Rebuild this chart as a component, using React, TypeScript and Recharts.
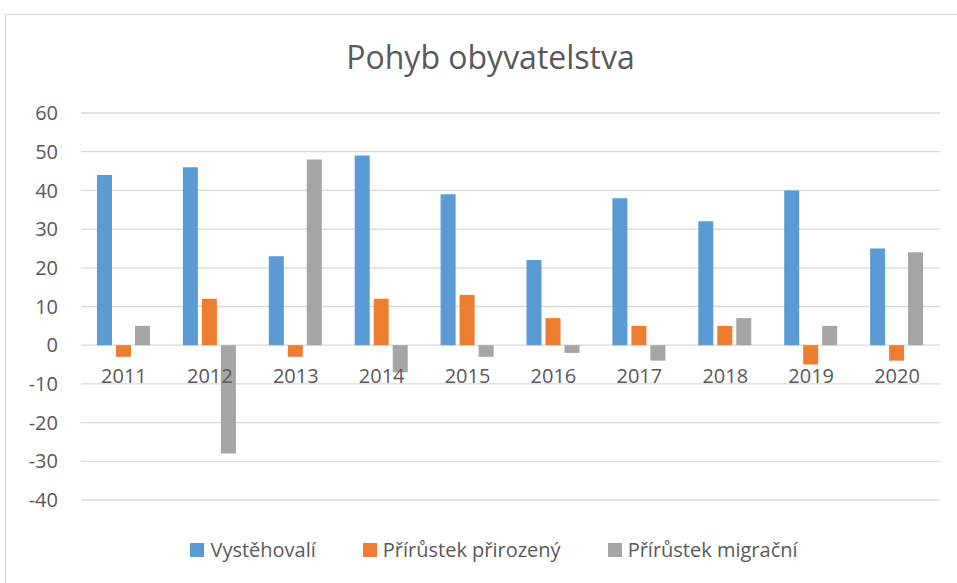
import { BarChart, Bar, XAxis, YAxis, CartesianGrid, Legend } from "recharts";

const years = ["2011", "2012", "2013", "2014", "2015", "2016", "2017", "2018", "2019", "2020"];
const vystehovali = [44, 46, 23, 49, 39, 22, 38, 32, 40, 25];
const prirozeny = [-3, 12, -3, 12, 13, 7, 5, 5, -5, -4];
const migracni = [5, -28, 48, -7, -3, -2, -4, 7, 5, 24];
const yTicks = [-40, -30, -20, -10, 0, 10, 20, 30, 40, 50, 60];

const series = [
  { key: "vystehovali", name: "Vystěhovalí", color: "#5B9BD5" },
  { key: "prirozeny", name: "Přírůstek přirozený", color: "#ED7D31" },
  { key: "migracni", name: "Přírůstek migrační", color: "#A5A5A5" },
];

const data = years.map((year, i) => ({
  year,
  vystehovali: vystehovali[i],
  prirozeny: prirozeny[i],
  migracni: migracni[i],
}));

const W = 957;
const H = 583;
const TOP = 113;
const BOTTOM = 83; // plot area ends at y=500
const XAXIS_H = 30;
const FONT = "'Open Sans', sans-serif";
const TEXT = "#595959";

// category labels sit just under the zero line, like in Excel
const plotH = H - TOP - BOTTOM;
const zeroY = TOP + (plotH * 60) / 100;

function YearTick(props: any) {
  const { x, payload } = props;
  return (
    <text x={x} y={zeroY + 38} textAnchor="middle" fill={TEXT} fontSize={20} fontFamily={FONT}>
      {payload.value}
    </text>
  );
}

function LegendContent() {
  // zero height so the legend doesn't shrink the plot area
  return (
    <div style={{ height: 0, overflow: "visible" }}>
      <div
        style={{
          display: "flex",
          justifyContent: "center",
          gap: 47,
          fontFamily: FONT,
          fontSize: 20,
          color: TEXT,
          lineHeight: "28px",
          paddingLeft: 31,
        }}
      >
        {series.map((s) => (
          <div key={s.key} style={{ display: "flex", alignItems: "center" }}>
            <span style={{ width: 14, height: 14, background: s.color, display: "inline-block", marginRight: 6 }} />
            {s.name}
          </div>
        ))}
      </div>
    </div>
  );
}

export default function App() {
  return (
    <div style={{ position: "absolute", left: 0, top: 0, width: W, height: H, overflow: "hidden", background: "#fff" }}>
      <div style={{ position: "absolute", left: 5, top: 14, width: W, height: H, border: "1px solid #D9D9D9" }} />
      <div
        style={{
          position: "absolute",
          top: 35,
          left: 12,
          width: W,
          textAlign: "center",
          fontFamily: FONT,
          fontSize: 32,
          color: TEXT,
        }}
      >
        Pohyb obyvatelstva
      </div>
      <div style={{ position: "absolute", left: 0, top: 0 }}>
        <BarChart
          width={W}
          height={H}
          data={data}
          margin={{ top: TOP, right: 17, bottom: BOTTOM - XAXIS_H, left: 0 }}
          barGap={4}
        >
          <CartesianGrid vertical={false} stroke="#D9D9D9" strokeWidth={1.3} />
          <XAxis dataKey="year" axisLine={false} tickLine={false} height={XAXIS_H} tick={<YearTick />} interval={0} />
          <YAxis
            domain={[-40, 60]}
            ticks={yTicks}
            width={81}
            axisLine={false}
            tickLine={false}
            tickSize={0}
            tickMargin={23}
            tick={{ fill: TEXT, fontSize: 20, fontFamily: FONT }}
          />
          <Legend
            content={<LegendContent />}
            wrapperStyle={{ position: "absolute", left: 0, top: 536, width: W }}
          />
          {series.map((s) => (
            <Bar key={s.key} dataKey={s.key} name={s.name} fill={s.color} barSize={15} isAnimationActive={false} />
          ))}
        </BarChart>
      </div>
    </div>
  );
}
